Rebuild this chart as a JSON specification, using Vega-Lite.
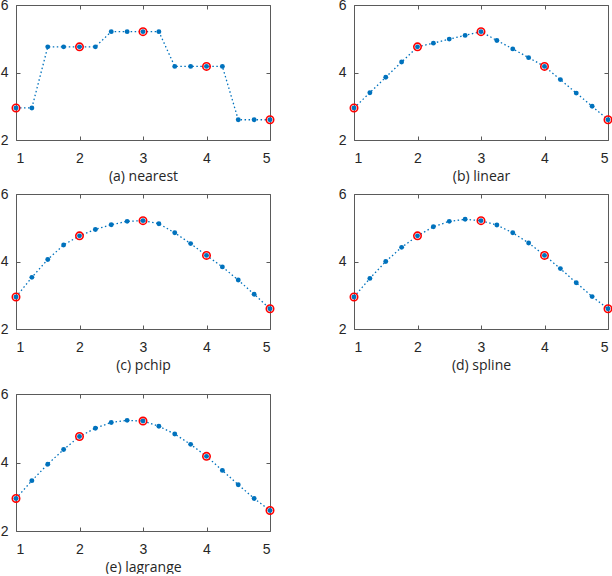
{
  "$schema": "https://vega.github.io/schema/vega-lite/v6.json",
  "padding": {"left": 0, "top": -2, "right": 0, "bottom": 0},
  "background": "white",
  "config": {
    "view": {"stroke": null},
    "axis": {
      "domainColor": "#5a5a5a",
      "tickColor": "#5a5a5a",
      "tickSize": -4,
      "labelFont": "Liberation Sans",
      "labelFontSize": 14,
      "labelColor": "#262626",
      "titleFont": "Open Sans",
      "titleFontSize": 14,
      "titleFontWeight": "normal",
      "titleColor": "#262626",
      "titlePadding": 4,
      "grid": false
    },
    "axisX": {"labelPadding": 15},
    "axisY": {"labelPadding": 12}
  },
  "datasets": {
    "orig": [
      {"x": 1, "y": 2.95}, {"x": 2, "y": 4.76}, {"x": 3, "y": 5.21}, {"x": 4, "y": 4.18}, {"x": 5, "y": 2.6}
    ],
    "interp": [
      {"m": "nearest", "x": 1, "y": 2.95}, {"m": "nearest", "x": 1.25, "y": 2.95}, {"m": "nearest", "x": 1.5, "y": 4.76}, {"m": "nearest", "x": 1.75, "y": 4.76}, {"m": "nearest", "x": 2, "y": 4.76}, {"m": "nearest", "x": 2.25, "y": 4.76}, {"m": "nearest", "x": 2.5, "y": 5.21}, {"m": "nearest", "x": 2.75, "y": 5.21}, {"m": "nearest", "x": 3, "y": 5.21}, {"m": "nearest", "x": 3.25, "y": 5.21}, {"m": "nearest", "x": 3.5, "y": 4.18}, {"m": "nearest", "x": 3.75, "y": 4.18}, {"m": "nearest", "x": 4, "y": 4.18}, {"m": "nearest", "x": 4.25, "y": 4.18}, {"m": "nearest", "x": 4.5, "y": 2.6}, {"m": "nearest", "x": 4.75, "y": 2.6}, {"m": "nearest", "x": 5, "y": 2.6},
      {"m": "linear", "x": 1, "y": 2.95}, {"m": "linear", "x": 1.25, "y": 3.40}, {"m": "linear", "x": 1.5, "y": 3.86}, {"m": "linear", "x": 1.75, "y": 4.31}, {"m": "linear", "x": 2, "y": 4.76}, {"m": "linear", "x": 2.25, "y": 4.87}, {"m": "linear", "x": 2.5, "y": 4.99}, {"m": "linear", "x": 2.75, "y": 5.10}, {"m": "linear", "x": 3, "y": 5.21}, {"m": "linear", "x": 3.25, "y": 4.95}, {"m": "linear", "x": 3.5, "y": 4.70}, {"m": "linear", "x": 3.75, "y": 4.44}, {"m": "linear", "x": 4, "y": 4.18}, {"m": "linear", "x": 4.25, "y": 3.79}, {"m": "linear", "x": 4.5, "y": 3.39}, {"m": "linear", "x": 4.75, "y": 3.0}, {"m": "linear", "x": 5, "y": 2.6},
      {"m": "pchip", "x": 1, "y": 2.95}, {"m": "pchip", "x": 1.25, "y": 3.53}, {"m": "pchip", "x": 1.5, "y": 4.06}, {"m": "pchip", "x": 1.75, "y": 4.49}, {"m": "pchip", "x": 2, "y": 4.76}, {"m": "pchip", "x": 2.25, "y": 4.95}, {"m": "pchip", "x": 2.5, "y": 5.09}, {"m": "pchip", "x": 2.75, "y": 5.19}, {"m": "pchip", "x": 3, "y": 5.21}, {"m": "pchip", "x": 3.25, "y": 5.12}, {"m": "pchip", "x": 3.5, "y": 4.85}, {"m": "pchip", "x": 3.75, "y": 4.53}, {"m": "pchip", "x": 4, "y": 4.18}, {"m": "pchip", "x": 4.25, "y": 3.84}, {"m": "pchip", "x": 4.5, "y": 3.45}, {"m": "pchip", "x": 4.75, "y": 3.03}, {"m": "pchip", "x": 5, "y": 2.6},
      {"m": "spline", "x": 1, "y": 2.95}, {"m": "spline", "x": 1.25, "y": 3.50}, {"m": "spline", "x": 1.5, "y": 4.0}, {"m": "spline", "x": 1.75, "y": 4.42}, {"m": "spline", "x": 2, "y": 4.76}, {"m": "spline", "x": 2.25, "y": 5.03}, {"m": "spline", "x": 2.5, "y": 5.19}, {"m": "spline", "x": 2.75, "y": 5.25}, {"m": "spline", "x": 3, "y": 5.21}, {"m": "spline", "x": 3.25, "y": 5.08}, {"m": "spline", "x": 3.5, "y": 4.85}, {"m": "spline", "x": 3.75, "y": 4.55}, {"m": "spline", "x": 4, "y": 4.18}, {"m": "spline", "x": 4.25, "y": 3.79}, {"m": "spline", "x": 4.5, "y": 3.37}, {"m": "spline", "x": 4.75, "y": 2.96}, {"m": "spline", "x": 5, "y": 2.6},
      {"m": "lagrange", "x": 1, "y": 2.95}, {"m": "lagrange", "x": 1.25, "y": 3.47}, {"m": "lagrange", "x": 1.5, "y": 3.95}, {"m": "lagrange", "x": 1.75, "y": 4.38}, {"m": "lagrange", "x": 2, "y": 4.76}, {"m": "lagrange", "x": 2.25, "y": 5.0}, {"m": "lagrange", "x": 2.5, "y": 5.17}, {"m": "lagrange", "x": 2.75, "y": 5.23}, {"m": "lagrange", "x": 3, "y": 5.21}, {"m": "lagrange", "x": 3.25, "y": 5.06}, {"m": "lagrange", "x": 3.5, "y": 4.83}, {"m": "lagrange", "x": 3.75, "y": 4.53}, {"m": "lagrange", "x": 4, "y": 4.18}, {"m": "lagrange", "x": 4.25, "y": 3.77}, {"m": "lagrange", "x": 4.5, "y": 3.35}, {"m": "lagrange", "x": 4.75, "y": 2.95}, {"m": "lagrange", "x": 5, "y": 2.6}
    ]
  },
  "spacing": 15,
  "vconcat": [
    {
      "spacing": 4,
      "vconcat": [
        {
          "spacing": 61,
          "hconcat": [
            {
              "width": 254, "height": 135,
              "layer": [
                {"data": {"name": "interp"}, "transform": [{"filter": "datum.m === 'nearest'"}],
                 "mark": {"type": "line", "color": "#0072BD", "strokeDash": [1.5, 2.5], "strokeWidth": 1.3},
                 "encoding": {"x": {"field": "x", "type": "quantitative", "scale": {"domain": [1, 5]}, "axis": {"title": "(a) nearest", "values": [1, 2, 3, 4, 5]}},
                              "y": {"field": "y", "type": "quantitative", "scale": {"domain": [2, 6]}, "axis": {"title": null, "values": [2, 4, 6]}}}},
                {"data": {"name": "interp"}, "transform": [{"filter": "datum.m === 'nearest'"}],
                 "mark": {"type": "point", "filled": true, "size": 24, "color": "#0072BD", "opacity": 1},
                 "encoding": {"x": {"field": "x", "type": "quantitative", "axis": {"orient": "top", "labels": false, "title": null, "values": [1, 2, 3, 4, 5]}},
                              "y": {"field": "y", "type": "quantitative", "axis": {"orient": "right", "labels": false, "title": null, "values": [2, 4, 6]}}}},
                {"data": {"name": "orig"},
                 "mark": {"type": "point", "filled": false, "size": 55, "color": "#FF0000", "strokeWidth": 1.6, "opacity": 1},
                 "encoding": {"x": {"field": "x", "type": "quantitative", "axis": null}, "y": {"field": "y", "type": "quantitative", "axis": null}}}
              ],
              "resolve": {"axis": {"x": "independent", "y": "independent"}}
            },
            {
              "width": 254, "height": 135,
              "layer": [
                {"data": {"name": "interp"}, "transform": [{"filter": "datum.m === 'linear'"}],
                 "mark": {"type": "line", "color": "#0072BD", "strokeDash": [1.5, 2.5], "strokeWidth": 1.3},
                 "encoding": {"x": {"field": "x", "type": "quantitative", "scale": {"domain": [1, 5]}, "axis": {"title": "(b) linear", "values": [1, 2, 3, 4, 5]}},
                              "y": {"field": "y", "type": "quantitative", "scale": {"domain": [2, 6]}, "axis": {"title": null, "values": [2, 4, 6]}}}},
                {"data": {"name": "interp"}, "transform": [{"filter": "datum.m === 'linear'"}],
                 "mark": {"type": "point", "filled": true, "size": 24, "color": "#0072BD", "opacity": 1},
                 "encoding": {"x": {"field": "x", "type": "quantitative", "axis": {"orient": "top", "labels": false, "title": null, "values": [1, 2, 3, 4, 5]}},
                              "y": {"field": "y", "type": "quantitative", "axis": {"orient": "right", "labels": false, "title": null, "values": [2, 4, 6]}}}},
                {"data": {"name": "orig"},
                 "mark": {"type": "point", "filled": false, "size": 55, "color": "#FF0000", "strokeWidth": 1.6, "opacity": 1},
                 "encoding": {"x": {"field": "x", "type": "quantitative", "axis": null}, "y": {"field": "y", "type": "quantitative", "axis": null}}}
              ],
              "resolve": {"axis": {"x": "independent", "y": "independent"}}
            }
          ]
        },
        {
          "spacing": 61,
          "hconcat": [
            {
              "width": 254, "height": 135,
              "layer": [
                {"data": {"name": "interp"}, "transform": [{"filter": "datum.m === 'pchip'"}],
                 "mark": {"type": "line", "color": "#0072BD", "strokeDash": [1.5, 2.5], "strokeWidth": 1.3},
                 "encoding": {"x": {"field": "x", "type": "quantitative", "scale": {"domain": [1, 5]}, "axis": {"title": "(c) pchip", "values": [1, 2, 3, 4, 5]}},
                              "y": {"field": "y", "type": "quantitative", "scale": {"domain": [2, 6]}, "axis": {"title": null, "values": [2, 4, 6]}}}},
                {"data": {"name": "interp"}, "transform": [{"filter": "datum.m === 'pchip'"}],
                 "mark": {"type": "point", "filled": true, "size": 24, "color": "#0072BD", "opacity": 1},
                 "encoding": {"x": {"field": "x", "type": "quantitative", "axis": {"orient": "top", "labels": false, "title": null, "values": [1, 2, 3, 4, 5]}},
                              "y": {"field": "y", "type": "quantitative", "axis": {"orient": "right", "labels": false, "title": null, "values": [2, 4, 6]}}}},
                {"data": {"name": "orig"},
                 "mark": {"type": "point", "filled": false, "size": 55, "color": "#FF0000", "strokeWidth": 1.6, "opacity": 1},
                 "encoding": {"x": {"field": "x", "type": "quantitative", "axis": null}, "y": {"field": "y", "type": "quantitative", "axis": null}}}
              ],
              "resolve": {"axis": {"x": "independent", "y": "independent"}}
            },
            {
              "width": 254, "height": 135,
              "layer": [
                {"data": {"name": "interp"}, "transform": [{"filter": "datum.m === 'spline'"}],
                 "mark": {"type": "line", "color": "#0072BD", "strokeDash": [1.5, 2.5], "strokeWidth": 1.3},
                 "encoding": {"x": {"field": "x", "type": "quantitative", "scale": {"domain": [1, 5]}, "axis": {"title": "(d) spline", "values": [1, 2, 3, 4, 5]}},
                              "y": {"field": "y", "type": "quantitative", "scale": {"domain": [2, 6]}, "axis": {"title": null, "values": [2, 4, 6]}}}},
                {"data": {"name": "interp"}, "transform": [{"filter": "datum.m === 'spline'"}],
                 "mark": {"type": "point", "filled": true, "size": 24, "color": "#0072BD", "opacity": 1},
                 "encoding": {"x": {"field": "x", "type": "quantitative", "axis": {"orient": "top", "labels": false, "title": null, "values": [1, 2, 3, 4, 5]}},
                              "y": {"field": "y", "type": "quantitative", "axis": {"orient": "right", "labels": false, "title": null, "values": [2, 4, 6]}}}},
                {"data": {"name": "orig"},
                 "mark": {"type": "point", "filled": false, "size": 55, "color": "#FF0000", "strokeWidth": 1.6, "opacity": 1},
                 "encoding": {"x": {"field": "x", "type": "quantitative", "axis": null}, "y": {"field": "y", "type": "quantitative", "axis": null}}}
              ],
              "resolve": {"axis": {"x": "independent", "y": "independent"}}
            }
          ]
        }
      ]
    },
    {
      "width": 254, "height": 137,
      "layer": [
        {"data": {"name": "interp"}, "transform": [{"filter": "datum.m === 'lagrange'"}],
         "mark": {"type": "line", "color": "#0072BD", "strokeDash": [1.5, 2.5], "strokeWidth": 1.3},
         "encoding": {"x": {"field": "x", "type": "quantitative", "scale": {"domain": [1, 5]}, "axis": {"title": "(e) lagrange", "values": [1, 2, 3, 4, 5]}},
                      "y": {"field": "y", "type": "quantitative", "scale": {"domain": [2, 6]}, "axis": {"title": null, "values": [2, 4, 6]}}}},
        {"data": {"name": "interp"}, "transform": [{"filter": "datum.m === 'lagrange'"}],
         "mark": {"type": "point", "filled": true, "size": 24, "color": "#0072BD", "opacity": 1},
         "encoding": {"x": {"field": "x", "type": "quantitative", "axis": {"orient": "top", "labels": false, "title": null, "values": [1, 2, 3, 4, 5]}},
                      "y": {"field": "y", "type": "quantitative", "axis": {"orient": "right", "labels": false, "title": null, "values": [2, 4, 6]}}}},
        {"data": {"name": "orig"},
         "mark": {"type": "point", "filled": false, "size": 55, "color": "#FF0000", "strokeWidth": 1.6, "opacity": 1},
         "encoding": {"x": {"field": "x", "type": "quantitative", "axis": null}, "y": {"field": "y", "type": "quantitative", "axis": null}}}
      ],
      "resolve": {"axis": {"x": "independent", "y": "independent"}}
    }
  ]
}
